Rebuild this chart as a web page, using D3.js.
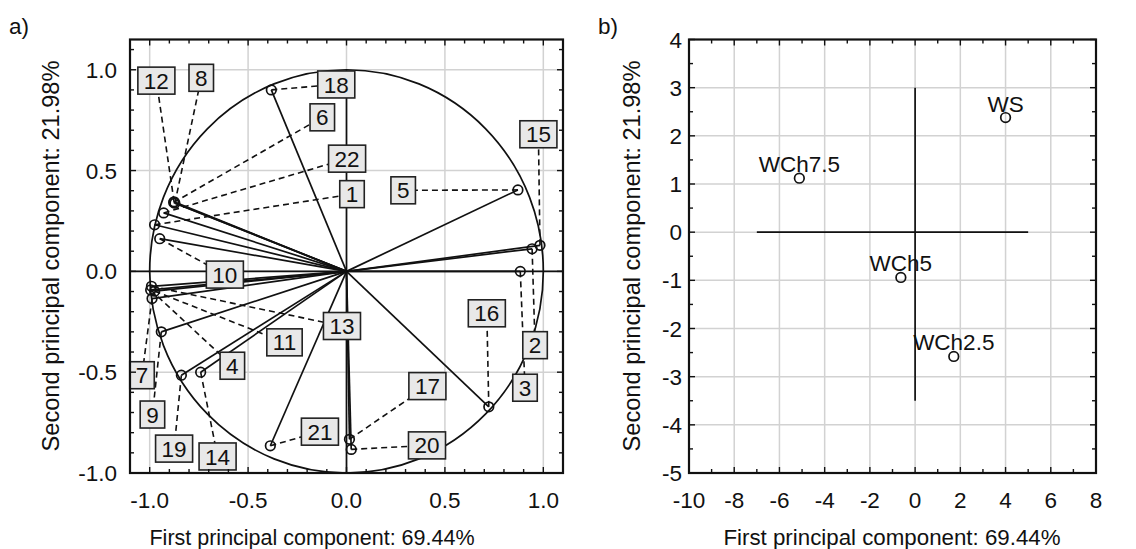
<!DOCTYPE html>
<html>
<head>
<meta charset="utf-8">
<script src="https://cdn.jsdelivr.net/npm/d3@7"></script>
<style>
  body { margin: 0; background: #fff; }
  svg text { font-family: "Liberation Sans", Arial, sans-serif; fill: #111; }
</style>
</head>
<body>
<svg id="chart" width="1136" height="549"></svg>
<script>
// ---------- Panel a: projection of the variables (loadings) ----------
const varIds  = ["1","2","3","4","5","6","7","8","9","10","11","12","13","14","15","16","17","18","19","20","21","22"];
const pc1Load = [-0.975, 0.943, 0.883, -0.995, 0.871, -0.878, -0.988, -0.872, -0.941, -0.949, -0.975,
                 -0.876, -0.991, -0.741, 0.983, 0.723, 0.015, -0.382, -0.839, 0.024, -0.387, -0.929];
const pc2Load = [0.231, 0.112, 0.000, -0.092, 0.404, 0.342, -0.135, 0.338, -0.300, 0.162, -0.098,
                 0.345, -0.074, -0.500, 0.129, -0.672, -0.833, 0.900, -0.515, -0.883, -0.865, 0.290];
// where each variable's tag sits, in loading units
const tagX = [0.028, 0.958, 0.907, -0.580, 0.288, -0.123, -1.039, -0.738, -0.986, -0.618, -0.315,
              -0.966, -0.023, -0.655, 0.975, 0.713, 0.411, -0.052, -0.876, 0.409, -0.135, 0.003];
const tagY = [0.383, -0.366, -0.577, -0.468, 0.402, 0.764, -0.515, 0.960, -0.710, -0.016, -0.352,
              0.946, -0.271, -0.918, 0.680, -0.208, -0.569, 0.927, -0.879, -0.863, -0.795, 0.559];
const ticksA = [-1.0, -0.5, 0.0, 0.5, 1.0];

// ---------- Panel b: projection of the cases (scores) ----------
const caseNames = ["WS", "WCh7.5", "WCh5", "WCh2.5"];
const pc1Score  = [4.00, -5.12, -0.63, 1.71];
const pc2Score  = [2.38, 1.12, -0.94, -2.58];
const ticksBX = [-10, -8, -6, -4, -2, 0, 2, 4, 6, 8];
const ticksBY = [-5, -4, -3, -2, -1, 0, 1, 2, 3, 4];

const titleX = "First principal component: 69.44%";
const titleY = "Second principal component: 21.98%";

const svg = d3.select("#chart");
const GRID = "#d2d2d2";
const INK = "#111";
const SW = 1.7;

function range(a, b, step) {
  const out = [];
  const n = Math.round((b - a) / step);
  for (let i = 0; i <= n; i++) out.push(+(a + i * step).toFixed(6));
  return out;
}

// light gridlines at the major ticks
function drawGrid(g, x, y, majX, majY) {
  const [x0, x1] = x.range(), [y0, y1] = y.range();
  g.append("g").selectAll("line").data(majX.filter(v => x(v) > x0 + 1 && x(v) < x1 - 1)).join("line")
    .attr("x1", d => x(d)).attr("x2", d => x(d)).attr("y1", y0).attr("y2", y1)
    .attr("stroke", GRID).attr("stroke-width", 1.5);
  g.append("g").selectAll("line").data(majY.filter(v => y(v) < y0 - 1 && y(v) > y1 + 1)).join("line")
    .attr("y1", d => y(d)).attr("y2", d => y(d)).attr("x1", x0).attr("x2", x1)
    .attr("stroke", GRID).attr("stroke-width", 1.5);
}
// frame with inward ticks on all four sides
function drawBorder(g, x, y, majX, majY, minX, minY) {
  const [x0, x1] = x.range(), [y0, y1] = y.range();
  const t = g.append("g").attr("stroke", INK).attr("stroke-width", 1.4);
  const isMaj = (arr, v) => arr.some(m => Math.abs(m - v) < 1e-6);
  minX.forEach(v => {
    const L = isMaj(majX, v) ? 6 : 4;
    t.append("line").attr("x1", x(v)).attr("x2", x(v)).attr("y1", y0).attr("y2", y0 - L);
    t.append("line").attr("x1", x(v)).attr("x2", x(v)).attr("y1", y1).attr("y2", y1 + L);
  });
  minY.forEach(v => {
    const L = isMaj(majY, v) ? 6 : 4;
    t.append("line").attr("y1", y(v)).attr("y2", y(v)).attr("x1", x0).attr("x2", x0 + L);
    t.append("line").attr("y1", y(v)).attr("y2", y(v)).attr("x1", x1).attr("x2", x1 - L);
  });
  g.append("rect").attr("x", x0).attr("y", y1).attr("width", x1 - x0).attr("height", y0 - y1)
    .attr("fill", "none").attr("stroke", INK).attr("stroke-width", 2.2);
}
function tickLabels(g, x, y, valsX, valsY, fmt, yLabelRight) {
  g.append("g").selectAll("text").data(valsX).join("text")
    .attr("x", d => x(d)).attr("y", y.range()[0] + 35)
    .attr("text-anchor", "middle").style("font-size", "22.5px").text(fmt);
  g.append("g").selectAll("text").data(valsY).join("text")
    .attr("x", yLabelRight).attr("y", d => y(d)).attr("dy", "0.36em")
    .attr("text-anchor", "end").style("font-size", "22.5px").text(fmt);
}

// ================= Panel a =================
{
  const x = d3.scaleLinear().domain([-1.1, 1.1]).range([130, 563]);
  const y = d3.scaleLinear().domain([-1.0, 1.15]).range([473, 39.5]);
  const g = svg.append("g");
  drawGrid(g, x, y, ticksA, ticksA);

  // axes through the origin
  g.append("line").attr("x1", x(-1.1)).attr("x2", x(1.1)).attr("y1", y(0)).attr("y2", y(0))
    .attr("stroke", INK).attr("stroke-width", SW);
  g.append("line").attr("x1", x(0)).attr("x2", x(0)).attr("y1", y(-1)).attr("y2", y(1))
    .attr("stroke", INK).attr("stroke-width", SW);

  // unit circle
  g.append("ellipse").attr("cx", x(0)).attr("cy", y(0))
    .attr("rx", x(1) - x(0)).attr("ry", y(0) - y(1))
    .attr("fill", "none").attr("stroke", INK).attr("stroke-width", SW);

  const vars = varIds.map((id, i) => ({ id, px: pc1Load[i], py: pc2Load[i], tx: tagX[i], ty: tagY[i] }));

  // rays from origin
  g.append("g").selectAll("line").data(vars).join("line")
    .attr("x1", x(0)).attr("y1", y(0)).attr("x2", d => x(d.px)).attr("y2", d => y(d.py))
    .attr("stroke", INK).attr("stroke-width", SW);

  // leaders to tags
  g.append("g").selectAll("line").data(vars).join("line")
    .attr("x1", d => x(d.px)).attr("y1", d => y(d.py)).attr("x2", d => x(d.tx)).attr("y2", d => y(d.ty))
    .attr("stroke", INK).attr("stroke-width", 1.6).attr("stroke-dasharray", "6,4");

  // variable markers
  g.append("g").selectAll("circle").data(vars).join("circle")
    .attr("cx", d => x(d.px)).attr("cy", d => y(d.py)).attr("r", 4.8)
    .attr("fill", "none").attr("stroke", INK).attr("stroke-width", SW);

  // tags
  const tags = g.append("g").selectAll("g").data(vars).join("g")
    .attr("transform", d => `translate(${x(d.tx)},${y(d.ty)})`);
  tags.append("rect").attr("fill", "#e8e8e8").attr("stroke", "#222").attr("stroke-width", 1.6);
  tags.append("text").attr("text-anchor", "middle").attr("dy", "0.36em")
    .style("font-size", "22.5px").text(d => d.id);
  tags.each(function () {
    const w = d3.select(this).select("text").node().getComputedTextLength() + 12;
    d3.select(this).select("rect").attr("x", -w / 2).attr("y", -13.5).attr("width", w).attr("height", 27);
  });

  drawBorder(g, x, y, ticksA, ticksA, range(-1.1, 1.1, 0.1), range(-1.0, 1.1, 0.1));
  tickLabels(g, x, y, ticksA, ticksA, d => d.toFixed(1), 117);

  g.append("text").attr("x", 312).attr("y", 545).attr("text-anchor", "middle")
    .style("font-size", "21.5px").text(titleX);
  g.append("text").attr("transform", "translate(59,256) rotate(-90)").attr("text-anchor", "middle")
    .style("font-size", "23.6px").text(titleY);
  g.append("text").attr("x", 9).attr("y", 34).style("font-size", "22.5px").text("a)");
}

// ================= Panel b =================
{
  const x = d3.scaleLinear().domain([-10, 8]).range([689, 1096]);
  const y = d3.scaleLinear().domain([-5, 4]).range([473, 39.5]);
  const g = svg.append("g");
  drawGrid(g, x, y, ticksBX, ticksBY);

  // reference cross
  g.append("line").attr("x1", x(-7)).attr("x2", x(5)).attr("y1", y(0)).attr("y2", y(0))
    .attr("stroke", INK).attr("stroke-width", SW);
  g.append("line").attr("x1", x(0)).attr("x2", x(0)).attr("y1", y(-3.5)).attr("y2", y(3))
    .attr("stroke", INK).attr("stroke-width", SW);

  const cases = caseNames.map((n, i) => ({ n, sx: pc1Score[i], sy: pc2Score[i] }));
  g.append("g").selectAll("circle").data(cases).join("circle")
    .attr("cx", d => x(d.sx)).attr("cy", d => y(d.sy)).attr("r", 4.8)
    .attr("fill", "none").attr("stroke", INK).attr("stroke-width", SW);
  g.append("g").selectAll("text").data(cases).join("text")
    .attr("x", d => x(d.sx)).attr("y", d => y(d.sy) - 6).attr("text-anchor", "middle")
    .style("font-size", "22.5px").text(d => d.n);

  drawBorder(g, x, y, ticksBX, ticksBY, range(-10, 8, 1), range(-5, 4, 0.5));
  tickLabels(g, x, y, ticksBX, ticksBY, d => String(d), 682);

  g.append("text").attr("x", 892).attr("y", 545).attr("text-anchor", "middle")
    .style("font-size", "22.3px").text(titleX);
  g.append("text").attr("transform", "translate(640,256) rotate(-90)").attr("text-anchor", "middle")
    .style("font-size", "23.6px").text(titleY);
  g.append("text").attr("x", 598).attr("y", 34).style("font-size", "22.5px").text("b)");
}
</script>
</body>
</html>
